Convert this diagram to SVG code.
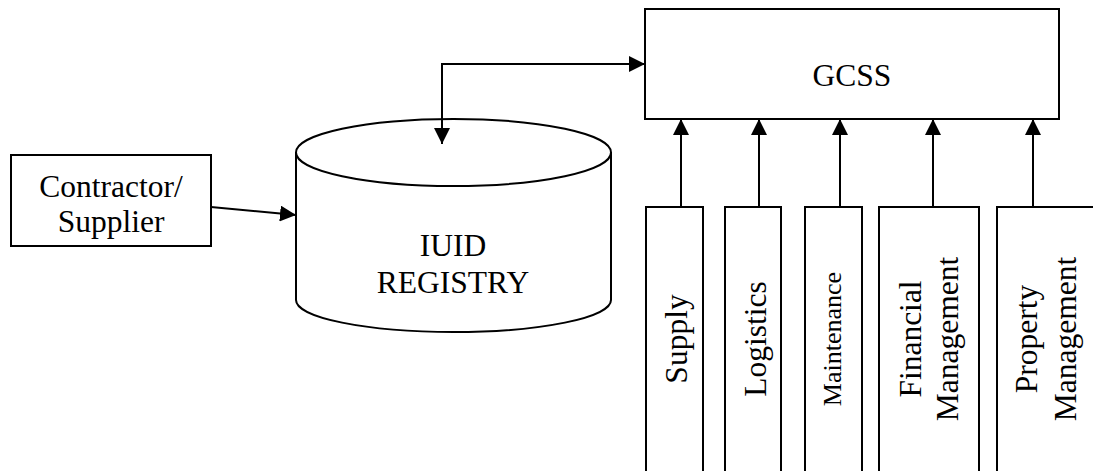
<svg xmlns="http://www.w3.org/2000/svg" width="1093" height="471" viewBox="0 0 1093 471">
<style>
.box{fill:#fff;stroke:#000;stroke-width:2}
.ln{fill:none;stroke:#000;stroke-width:2}
.t{font-family:"Liberation Serif","Times New Roman",serif;font-size:31.5px;fill:#000;text-anchor:middle}
.s{font-size:26px}
</style>
<defs>
<marker id="ah" markerUnits="userSpaceOnUse" markerWidth="16" markerHeight="16" refX="15" refY="7.5" orient="auto-start-reverse" viewBox="0 0 15 15">
<path d="M0,0 L15,7.5 L0,15 Z" fill="#000"/>
</marker>
</defs>
<rect width="1093" height="471" fill="#fff"/>
<g id="gcss">
<rect class="box" x="645" y="9" width="414" height="110"/>
<text class="t" x="852" y="86">GCSS</text>
</g>
<g id="contractor">
<rect class="box" x="11" y="155" width="200" height="91"/>
<text class="t" x="111" y="197">Contractor/</text>
<text class="t" x="111" y="232">Supplier</text>
</g>
<g id="iuid">
<path class="box" d="M296,152 L296,300 A157.5,32 0 0 0 611,300 L611,152"/>
<ellipse class="box" cx="453.5" cy="152.5" rx="157.5" ry="33.5"/>
<text class="t" x="453" y="256">IUID</text>
<text class="t" x="453" y="293">REGISTRY</text>
</g>
<g id="supply">
<rect class="box" x="646" y="207" width="57" height="280"/>
<text class="t" transform="translate(687,339) rotate(-90)">Supply</text>
</g>
<g id="logistics">
<rect class="box" x="725" y="207" width="56" height="280"/>
<text class="t" transform="translate(766,339) rotate(-90)">Logistics</text>
</g>
<g id="maintenance">
<rect class="box" x="805" y="207" width="57" height="280"/>
<text class="t s" transform="translate(841,339) rotate(-90)">Maintenance</text>
</g>
<g id="financial">
<rect class="box" x="879" y="207" width="100" height="280"/>
<text class="t" transform="translate(921,339) rotate(-90)">Financial</text>
<text class="t" transform="translate(958,339) rotate(-90)">Management</text>
</g>
<g id="property">
<rect class="box" x="997" y="207" width="110" height="280"/>
<text class="t" transform="translate(1037,339) rotate(-90)">Property</text>
<text class="t" transform="translate(1076,339) rotate(-90)">Management</text>
</g>
<g id="connectors">
<path class="ln" d="M211,207 L296,215" marker-end="url(#ah)"/>
<path class="ln" d="M442,144 L442,64 L645,64" marker-start="url(#ah)" marker-end="url(#ah)"/>
<path class="ln" d="M681,207 L681,119" marker-end="url(#ah)"/>
<path class="ln" d="M759,207 L759,119" marker-end="url(#ah)"/>
<path class="ln" d="M840,207 L840,119" marker-end="url(#ah)"/>
<path class="ln" d="M933,207 L933,119" marker-end="url(#ah)"/>
<path class="ln" d="M1033,207 L1033,119" marker-end="url(#ah)"/>
</g>
</svg>
